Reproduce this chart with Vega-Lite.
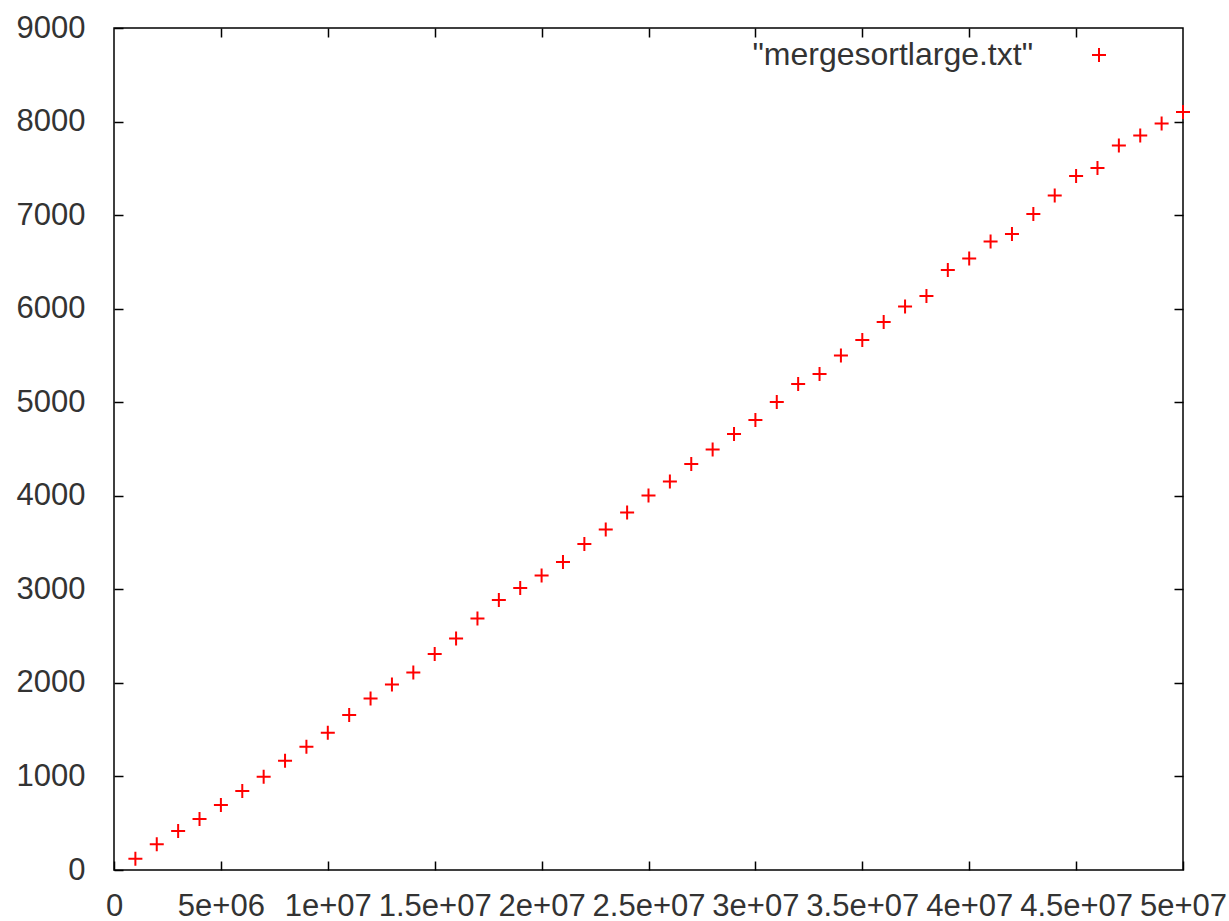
{
  "$schema": "https://vega.github.io/schema/vega-lite/v6.json",
  "autosize": "none",
  "padding": {"left": 114, "top": 28, "right": 46, "bottom": 51},
  "width": 1069,
  "height": 842,
  "background": "white",
  "config": {
    "view": {"stroke": "#000000", "strokeWidth": 1.5},
    "font": "Liberation Sans",
    "axis": {
      "grid": false,
      "domainColor": "#000000",
      "domainWidth": 1.5,
      "tickColor": "#000000",
      "tickWidth": 1.5,
      "labelFont": "Liberation Sans",
      "labelFontSize": 31,
      "labelColor": "#333333",
      "labelOverlap": false,
      "labelFlush": false,
      "title": null
    }
  },
  "data": {
    "values": [
      {"n": 1000000, "t": 120, "file": "\"mergesortlarge.txt\""},
      {"n": 2000000, "t": 275, "file": "\"mergesortlarge.txt\""},
      {"n": 3000000, "t": 417, "file": "\"mergesortlarge.txt\""},
      {"n": 4000000, "t": 545, "file": "\"mergesortlarge.txt\""},
      {"n": 5000000, "t": 695, "file": "\"mergesortlarge.txt\""},
      {"n": 6000000, "t": 844, "file": "\"mergesortlarge.txt\""},
      {"n": 7000000, "t": 998, "file": "\"mergesortlarge.txt\""},
      {"n": 8000000, "t": 1168, "file": "\"mergesortlarge.txt\""},
      {"n": 9000000, "t": 1318, "file": "\"mergesortlarge.txt\""},
      {"n": 10000000, "t": 1468, "file": "\"mergesortlarge.txt\""},
      {"n": 11000000, "t": 1657, "file": "\"mergesortlarge.txt\""},
      {"n": 12000000, "t": 1832, "file": "\"mergesortlarge.txt\""},
      {"n": 13000000, "t": 1982, "file": "\"mergesortlarge.txt\""},
      {"n": 14000000, "t": 2110, "file": "\"mergesortlarge.txt\""},
      {"n": 15000000, "t": 2309, "file": "\"mergesortlarge.txt\""},
      {"n": 16000000, "t": 2474, "file": "\"mergesortlarge.txt\""},
      {"n": 17000000, "t": 2688, "file": "\"mergesortlarge.txt\""},
      {"n": 18000000, "t": 2886, "file": "\"mergesortlarge.txt\""},
      {"n": 19000000, "t": 3014, "file": "\"mergesortlarge.txt\""},
      {"n": 20000000, "t": 3147, "file": "\"mergesortlarge.txt\""},
      {"n": 21000000, "t": 3292, "file": "\"mergesortlarge.txt\""},
      {"n": 22000000, "t": 3484, "file": "\"mergesortlarge.txt\""},
      {"n": 23000000, "t": 3640, "file": "\"mergesortlarge.txt\""},
      {"n": 24000000, "t": 3821, "file": "\"mergesortlarge.txt\""},
      {"n": 25000000, "t": 4002, "file": "\"mergesortlarge.txt\""},
      {"n": 26000000, "t": 4152, "file": "\"mergesortlarge.txt\""},
      {"n": 27000000, "t": 4339, "file": "\"mergesortlarge.txt\""},
      {"n": 28000000, "t": 4494, "file": "\"mergesortlarge.txt\""},
      {"n": 29000000, "t": 4660, "file": "\"mergesortlarge.txt\""},
      {"n": 30000000, "t": 4810, "file": "\"mergesortlarge.txt\""},
      {"n": 31000000, "t": 5002, "file": "\"mergesortlarge.txt\""},
      {"n": 32000000, "t": 5195, "file": "\"mergesortlarge.txt\""},
      {"n": 33000000, "t": 5301, "file": "\"mergesortlarge.txt\""},
      {"n": 34000000, "t": 5500, "file": "\"mergesortlarge.txt\""},
      {"n": 35000000, "t": 5665, "file": "\"mergesortlarge.txt\""},
      {"n": 36000000, "t": 5858, "file": "\"mergesortlarge.txt\""},
      {"n": 37000000, "t": 6023, "file": "\"mergesortlarge.txt\""},
      {"n": 38000000, "t": 6135, "file": "\"mergesortlarge.txt\""},
      {"n": 39000000, "t": 6413, "file": "\"mergesortlarge.txt\""},
      {"n": 40000000, "t": 6536, "file": "\"mergesortlarge.txt\""},
      {"n": 41000000, "t": 6718, "file": "\"mergesortlarge.txt\""},
      {"n": 42000000, "t": 6798, "file": "\"mergesortlarge.txt\""},
      {"n": 43000000, "t": 7011, "file": "\"mergesortlarge.txt\""},
      {"n": 44000000, "t": 7209, "file": "\"mergesortlarge.txt\""},
      {"n": 45000000, "t": 7418, "file": "\"mergesortlarge.txt\""},
      {"n": 46000000, "t": 7503, "file": "\"mergesortlarge.txt\""},
      {"n": 47000000, "t": 7744, "file": "\"mergesortlarge.txt\""},
      {"n": 48000000, "t": 7850, "file": "\"mergesortlarge.txt\""},
      {"n": 49000000, "t": 7978, "file": "\"mergesortlarge.txt\""},
      {"n": 50000000, "t": 8102, "file": "\"mergesortlarge.txt\""}
    ]
  },
  "layer": [
    {
      "mark": {"type": "point", "shape": "M-1,0H1M0,-1V1", "filled": false, "strokeWidth": 2, "size": 196, "opacity": 1, "clip": false},
      "encoding": {
        "x": {
          "field": "n", "type": "quantitative",
          "scale": {"domain": [0, 50000000], "nice": false, "zero": false},
          "axis": {
            "orient": "bottom",
            "values": [0, 5000000, 10000000, 15000000, 20000000, 25000000, 30000000, 35000000, 40000000, 45000000, 50000000],
            "labelExpr": "datum.value == 0 ? '0' : replace(format(datum.value, '~e'), 'e+', 'e+0')",
            "tickSize": -9,
            "labelPadding": 30,
            "domain": false
          }
        },
        "y": {
          "field": "t", "type": "quantitative",
          "scale": {"domain": [0, 9000], "nice": false, "zero": false},
          "axis": {
            "orient": "left",
            "values": [0, 1000, 2000, 3000, 4000, 5000, 6000, 7000, 8000, 9000],
            "format": "d",
            "tickSize": -9,
            "labelPadding": 38,
            "domain": false
          }
        },
        "color": {
          "field": "file", "type": "nominal",
          "scale": {"range": ["#ff0000"]},
          "legend": {
            "title": null,
            "orient": "none",
            "legendX": 969,
            "legendY": 11,
            "padding": 0,
            "symbolType": "M-1,0H1M0,-1V1",
            "symbolSize": 196,
            "symbolStrokeWidth": 2,
            "symbolStrokeColor": "#ff0000",
            "symbolFillColor": "transparent",
            "labelAlign": "right",
            "labelOffset": -82,
            "labelFont": "Liberation Sans",
            "labelFontSize": 32,
            "labelColor": "#333333",
            "labelLimit": 0
          }
        }
      }
    },
    {
      "mark": {"type": "point", "opacity": 0},
      "encoding": {
        "x": {
          "field": "n", "type": "quantitative",
          "axis": {
            "orient": "top",
            "values": [5000000, 10000000, 15000000, 20000000, 25000000, 30000000, 35000000, 40000000, 45000000],
            "labels": false,
            "tickSize": -9,
            "domain": false
          }
        },
        "y": {
          "field": "t", "type": "quantitative",
          "axis": {
            "orient": "right",
            "values": [1000, 2000, 3000, 4000, 5000, 6000, 7000, 8000],
            "labels": false,
            "tickSize": -9,
            "domain": false
          }
        }
      }
    }
  ],
  "resolve": {"axis": {"x": "independent", "y": "independent"}}
}
